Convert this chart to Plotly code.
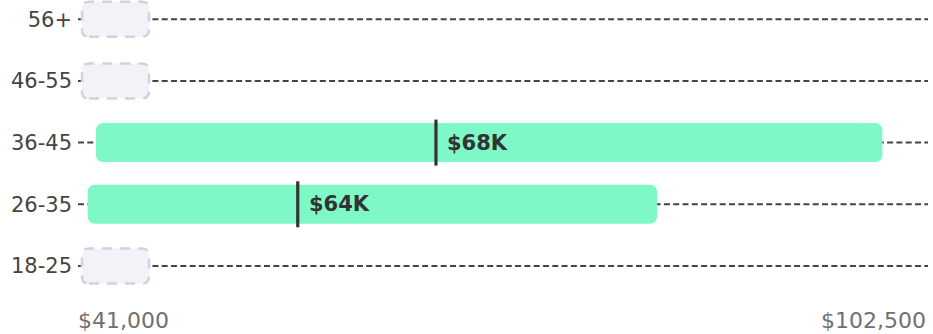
import plotly.graph_objects as go

# ---- data ----
categories = ["18-25", "26-35", "36-45", "46-55", "56+"]
salary_min = [None, 41700, 42300, None, None]
salary_max = [None, 82900, 99200, None, None]
salary_median = [None, 56900, 66900, None, None]
median_labels = [None, "$64K", "$68K", None, None]
axis_labels = ["$41,000", "$102,500"]
axis_range = [41000, 102500]

FONT = "DejaVu Sans"
BAR_COLOR = "#7ef8c6"
LINE_COLOR = "#444444"

fig = go.Figure()

idx = list(range(len(categories)))
has = [i for i in idx if salary_min[i] is not None]
empty = [i for i in idx if salary_min[i] is None]

# range bars
fig.add_trace(go.Bar(
    y=[i for i in has],
    base=[salary_min[i] for i in has],
    x=[salary_max[i] - salary_min[i] for i in has],
    orientation="h",
    width=0.632,
    marker=dict(color=BAR_COLOR, line=dict(width=0), cornerradius=7),
    hoverinfo="skip",
    showlegend=False,
))

# median markers
mx, my = [], []
for i in has:
    mx += [salary_median[i], salary_median[i], None]
    my += [i - 0.373, i + 0.373, None]
fig.add_trace(go.Scatter(
    x=mx, y=my, mode="lines",
    line=dict(color="#333333", width=3.2),
    hoverinfo="skip", showlegend=False,
))

shapes = []
# dashed guide line per row
for i in idx:
    shapes.append(dict(
        type="line", xref="paper", x0=0, x1=1, yref="y", y0=i, y1=i,
        line=dict(color=LINE_COLOR, width=2, dash="6px,3.3px"),
        layer="below",
    ))
# placeholder boxes for empty rows
box_path = ("M 11,-17.5 L 64,-17.5 Q 71,-17.5 71,-10.5 L 71,10.5 "
            "Q 71,17.5 64,17.5 L 11,17.5 Q 4,17.5 4,10.5 L 4,-10.5 "
            "Q 4,-17.5 11,-17.5 Z")
for i in empty:
    shapes.append(dict(
        type="path", path=box_path,
        xref="paper", xsizemode="pixel", xanchor=0,
        yref="y", ysizemode="pixel", yanchor=i,
        fillcolor="#f2f3f8",
        line=dict(color="#d2d3d9", width=2.5, dash="10px,8px"),
        layer="above",
    ))

annotations = []
for i in has:
    annotations.append(dict(
        x=salary_median[i], y=i, xref="x", yref="y",
        text="<b>%s</b>" % median_labels[i], showarrow=False,
        xanchor="left", yanchor="middle", xshift=9,
        font=dict(family=FONT, size=21, color="#333333"),
    ))
annotations.append(dict(
    x=0, y=-0.068, xref="paper", yref="paper", text=axis_labels[0],
    showarrow=False, xanchor="left", yanchor="middle", xshift=-2,
    font=dict(family=FONT, size=22, color="#707070"),
))
annotations.append(dict(
    x=1, y=-0.068, xref="paper", yref="paper", text=axis_labels[1],
    showarrow=False, xanchor="right", yanchor="middle",
    font=dict(family=FONT, size=22, color="#707070"),
))

fig.update_layout(
    width=933, height=334,
    margin=dict(l=78, r=5, t=0, b=34),
    paper_bgcolor="white", plot_bgcolor="white",
    shapes=shapes, annotations=annotations,
    barmode="overlay",
    xaxis=dict(range=axis_range, showgrid=False, zeroline=False,
               showticklabels=False, showline=False, fixedrange=True),
    yaxis=dict(range=[-0.551, 4.311], tickmode="array", tickvals=idx,
               ticktext=categories, showgrid=False, zeroline=False,
               showline=False, ticks="", ticklabelstandoff=5,
               tickfont=dict(family=FONT, size=21, color="#444444"),
               fixedrange=True),
    font=dict(family=FONT),
)

fig.write_html("out.html", config={"displayModeBar": False},
               post_script="document.body.style.margin='0px';")
